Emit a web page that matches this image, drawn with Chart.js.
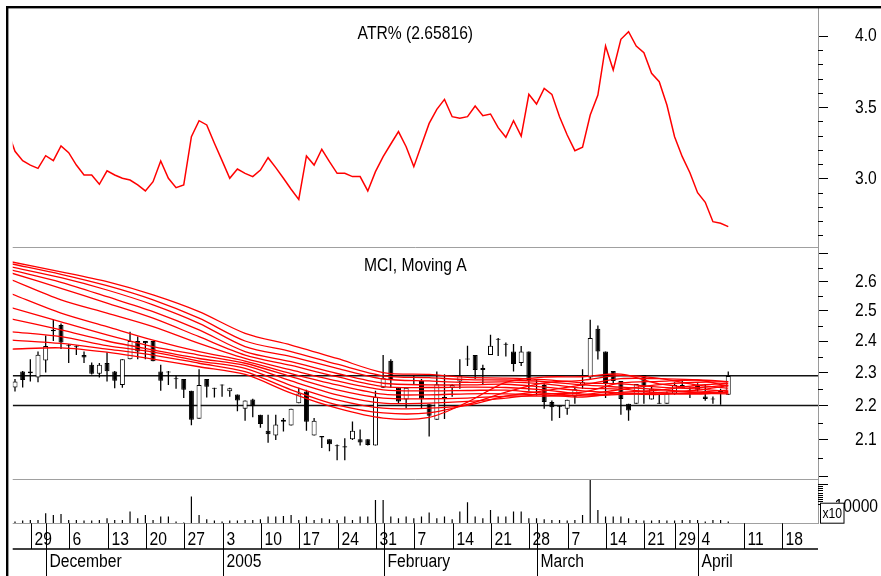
<!DOCTYPE html>
<html>
<head>
<meta charset="utf-8">
<title>MCI with ATR% and moving averages</title>
<script src="https://cdn.jsdelivr.net/npm/chart.js@4.4.1/dist/chart.umd.min.js"></script>
<style>
html,body{margin:0;padding:0;background:#ffffff;overflow:hidden;}
#box{position:relative;width:881px;height:576px;}
canvas{display:block;}
</style>
</head>
<body>
<div id="box"><canvas id="chart" width="881" height="576"></canvas></div>
<script>
const FONT = "'Liberation Sans',Arial,Helvetica,sans-serif";
const SQ = 0.87; // horizontal squeeze to imitate a narrow face

// ---- price bars (index 0 = first trading day shown) ----
const openP = [2.254,2.303,2.303,2.285,2.338,2.437,2.452,2.388,2.383,2.355,
 2.324,2.296,2.330,2.303,2.262,2.342,2.400,2.400,2.400,2.303,
 2.303,2.282,2.280,2.244,2.161,2.280,2.253,2.263,2.243,2.233,
 2.190,2.218,2.173,2.126,2.113,2.158,2.141,2.207,2.242,2.113,
 2.111,2.102,2.085,2.082,2.102,2.102,2.102,2.084,2.253,2.337,
 2.253,2.218,2.277,2.274,2.204,2.158,2.220,2.253,2.272,2.344,
 2.355,2.314,2.355,2.407,2.391,2.366,2.330,2.366,2.279,2.262,
 2.210,2.199,2.190,2.226,2.260,2.285,2.440,2.366,2.305,2.274,
 2.205,2.205,2.292,2.218,2.205,2.205,2.235,2.252,2.243,2.262,
 2.227,2.221,2.240,2.232];
const highP = [2.280,2.305,2.342,2.366,2.418,2.470,2.457,2.390,2.386,2.366,
 2.331,2.330,2.364,2.305,2.342,2.430,2.415,2.400,2.400,2.324,
 2.305,2.290,2.280,2.244,2.310,2.280,2.253,2.263,2.253,2.233,
 2.215,2.220,2.173,2.173,2.173,2.163,2.190,2.253,2.247,2.163,
 2.111,2.102,2.087,2.105,2.153,2.130,2.102,2.244,2.355,2.342,
 2.253,2.253,2.290,2.280,2.204,2.303,2.295,2.264,2.342,2.385,
 2.355,2.324,2.420,2.410,2.395,2.390,2.384,2.366,2.280,2.267,
 2.215,2.199,2.217,2.255,2.310,2.470,2.451,2.366,2.305,2.274,
 2.205,2.265,2.292,2.257,2.235,2.242,2.270,2.278,2.255,2.267,
 2.265,2.227,2.250,2.303];
const lowP = [2.242,2.254,2.272,2.270,2.300,2.400,2.374,2.330,2.355,2.330,
 2.294,2.285,2.272,2.252,2.253,2.342,2.342,2.342,2.335,2.244,
 2.262,2.250,2.222,2.142,2.161,2.224,2.224,2.226,2.226,2.183,
 2.155,2.165,2.135,2.092,2.100,2.124,2.141,2.207,2.126,2.113,
 2.077,2.068,2.043,2.043,2.100,2.084,2.084,2.084,2.253,2.253,
 2.207,2.192,2.262,2.192,2.110,2.158,2.160,2.226,2.250,2.320,
 2.280,2.264,2.355,2.352,2.350,2.303,2.320,2.244,2.230,2.190,
 2.155,2.163,2.173,2.205,2.250,2.280,2.341,2.222,2.265,2.173,
 2.155,2.205,2.205,2.218,2.205,2.205,2.232,2.252,2.222,2.242,
 2.214,2.205,2.202,2.232];
const closeP = [2.272,2.277,2.298,2.356,2.384,2.432,2.395,2.385,2.380,2.347,
 2.296,2.324,2.304,2.275,2.342,2.400,2.366,2.393,2.335,2.275,
 2.300,2.279,2.247,2.158,2.262,2.256,2.250,2.260,2.252,2.215,
 2.215,2.198,2.146,2.116,2.144,2.152,2.190,2.236,2.152,2.155,
 2.107,2.088,2.082,2.079,2.126,2.093,2.086,2.225,2.284,2.277,
 2.212,2.253,2.274,2.220,2.170,2.264,2.225,2.262,2.290,2.341,
 2.308,2.308,2.385,2.404,2.388,2.327,2.366,2.277,2.276,2.210,
 2.195,2.196,2.217,2.249,2.270,2.410,2.366,2.265,2.274,2.219,
 2.185,2.265,2.255,2.250,2.208,2.236,2.262,2.262,2.246,2.247,
 2.219,2.218,2.245,2.289];
const volume = [77000,123000,150000,150000,455000,377000,423000,150000,150000,123000,
 123000,150000,227000,150000,150000,532000,227000,377000,150000,305000,
 305000,77000,32000,1214000,377000,182000,123000,77000,123000,123000,
 150000,150000,182000,305000,305000,332000,377000,150000,305000,150000,
 227000,182000,150000,305000,150000,305000,305000,1059000,1059000,305000,
 227000,305000,227000,305000,486000,227000,305000,182000,532000,955000,
 305000,227000,605000,305000,305000,532000,532000,227000,227000,182000,
 150000,150000,123000,150000,377000,1968000,605000,305000,305000,305000,
 227000,150000,123000,123000,150000,123000,123000,150000,150000,150000,
 77000,150000,150000,77000];

// ---- ATR% (first value belongs to the day before the first bar) ----
const atrStart = -1;
const atrPct = [3.34,3.19,3.124,3.093,3.070,3.159,3.124,3.227,3.180,3.093,3.023,
 3.023,2.958,3.053,3.023,3.000,2.988,2.953,2.911,2.976,3.122,
 3.000,2.934,2.953,3.293,3.405,3.375,3.246,3.124,3.000,3.065,
 3.035,3.012,3.058,3.145,3.075,3.000,2.923,2.852,3.157,3.093,
 3.204,3.117,3.035,3.035,3.012,3.012,2.911,3.047,3.152,3.241,
 3.328,3.222,3.082,3.234,3.386,3.485,3.555,3.433,3.422,3.433,
 3.508,3.440,3.452,3.356,3.288,3.405,3.297,3.590,3.522,3.632,
 3.590,3.433,3.304,3.194,3.218,3.445,3.585,3.930,3.761,3.977,
 4.030,3.930,3.883,3.738,3.679,3.515,3.292,3.152,3.039,2.899,
 2.831,2.695,2.684,2.660];

// ---- moving averages, read at these bar positions ----
const maIndex = [-0.4,6,12,18,24,30,36,42,48,54,59,64,69,74,79,84,89,93];
const maA = [2.670,2.635,2.600,2.554,2.497,2.425,2.387,2.344,2.300,2.294,2.285,2.283,2.278,2.268,2.265,2.255,2.250,2.242];
const maB = [2.663,2.626,2.586,2.537,2.475,2.400,2.366,2.326,2.290,2.284,2.278,2.277,2.272,2.262,2.255,2.248,2.240,2.238];
const maC = [2.652,2.614,2.571,2.520,2.458,2.382,2.350,2.313,2.280,2.274,2.270,2.271,2.265,2.252,2.249,2.238,2.236,2.235];
const maD = [2.641,2.598,2.548,2.497,2.436,2.366,2.334,2.297,2.267,2.262,2.262,2.264,2.255,2.244,2.238,2.235,2.234,2.240];
const maE = [2.630,2.577,2.526,2.475,2.414,2.355,2.322,2.287,2.257,2.254,2.255,2.254,2.247,2.234,2.235,2.233,2.240,2.246];
const maF = [2.606,2.537,2.492,2.447,2.392,2.344,2.308,2.274,2.247,2.244,2.245,2.246,2.237,2.229,2.233,2.239,2.246,2.260];
const maG = [2.557,2.492,2.447,2.403,2.366,2.336,2.297,2.262,2.234,2.232,2.235,2.235,2.232,2.225,2.239,2.246,2.261,2.267];
const maH = [2.510,2.463,2.420,2.382,2.355,2.329,2.287,2.247,2.222,2.220,2.222,2.228,2.228,2.232,2.248,2.263,2.270,2.272];
const maI = [2.472,2.436,2.400,2.371,2.344,2.322,2.274,2.232,2.207,2.207,2.212,2.222,2.234,2.240,2.268,2.273,2.277,2.272];
const maJ = [2.430,2.414,2.385,2.364,2.336,2.313,2.260,2.217,2.192,2.192,2.200,2.228,2.244,2.262,2.281,2.281,2.277,2.258];
const maK = [2.403,2.392,2.374,2.355,2.329,2.303,2.247,2.202,2.178,2.178,2.203,2.240,2.268,2.276,2.291,2.282,2.261,2.252];
const maL = [2.374,2.378,2.364,2.342,2.318,2.294,2.237,2.192,2.163,2.165,2.210,2.270,2.286,2.287,2.295,2.265,2.254,2.262];
const maSeries = [maA,maB,maC,maD,maE,maF,maG,maH,maI,maJ,maK,maL];

// ---- horizontal levels ----
const levelHigh = 2.29;
const levelLow = 2.20;

// ---- date axis ----
const dayTicks  = [2,7,12,17,22,27,32,37,42,47,52,57,62,67,72,77,82,86,89,95,100];
const dayLabels = ['29','6','13','20','27','3','10','17','24','31','7','14','21','28','7','14','21','29','4','11','18'];
const monthTicks  = [4,27,48,68,89];
const monthLabels = ['December','2005','February','March','April'];

// ---- value axes ----
const atrMajor = [3.0,3.5,4.0];
const atrMinor = [2.6,2.7,2.8,2.9,3.1,3.2,3.3,3.4,3.6,3.7,3.8,3.9];
const mciMajor = [2.0,2.1,2.2,2.3,2.4,2.5,2.6,2.7];
const mciLabelled = [2.1,2.2,2.3,2.4,2.5,2.6];
const mciMinor = [2.05,2.15,2.25,2.35,2.45,2.55,2.65];
const volMinor = [900000,1000000,1100000,1200000,1300000,1400000,1500000,1600000,1700000];
const volMajor = [1800000];
const volLabelValue = 750000;
const volLabel = '10000';
const volMultiplier = 'x10';

const xMin = -0.3, xMax = 104.7;
const atrMin = 2.515, atrMax = 4.197;
const mciMin = 1.9914, mciMax = 2.7235;
const volMax = 2000000;

const barIdx = closeP.map((_, i) => i);

Chart.defaults.font.family = FONT;

const fitY = s => { s.width = 63; s.paddingTop = 0; s.paddingBottom = 0; };

const datasets = [];
[levelHigh, levelLow].forEach(v => datasets.push({
  type: 'line', yAxisID: 'yMCI', order: 6,
  data: [{x: xMin, y: v}, {x: xMax, y: v}],
  borderColor: '#111', borderWidth: 1.7, pointRadius: 0
}));
datasets.push({
  type: 'bar', yAxisID: 'yMCI', order: 5, grouped: false,
  data: barIdx.map(i => ({x: i, y: [lowP[i], highP[i]]})),
  backgroundColor: '#000', borderWidth: 0, barThickness: 1.3, maxBarThickness: 1.3, inflateAmount: 0
});
datasets.push({
  type: 'bar', yAxisID: 'yMCI', order: 4, grouped: false,
  data: barIdx.map(i => ({x: i, y: [openP[i], closeP[i]]})),
  backgroundColor: barIdx.map(i => closeP[i] >= openP[i] ? '#ffffff' : '#000000'),
  borderColor: '#000', borderWidth: 1, borderSkipped: false,
  barThickness: 5, maxBarThickness: 5, inflateAmount: 0
});
maSeries.forEach(s => datasets.push({
  type: 'line', yAxisID: 'yMCI', order: 1,
  data: maIndex.map((x, k) => ({x, y: s[k]})),
  borderColor: '#ff0000', borderWidth: 1.3, pointRadius: 0, tension: 0.3
}));
datasets.push({
  type: 'line', yAxisID: 'yATR', order: 1,
  data: atrPct.map((v, k) => ({x: atrStart + k, y: v})),
  borderColor: '#ff0000', borderWidth: 1.5, pointRadius: 0, tension: 0
});
datasets.push({
  type: 'bar', yAxisID: 'yVol', order: 2, grouped: false,
  data: barIdx.map(i => ({x: i, y: volume[i]})),
  backgroundColor: '#000', borderWidth: 0, barThickness: 1.2, maxBarThickness: 1.2, inflateAmount: 0
});

function narrowText(ctx, text, x, y, size, align, baseline) {
  ctx.save();
  ctx.font = size + 'px ' + FONT;
  ctx.textBaseline = baseline || 'alphabetic';
  ctx.textAlign = 'left';
  const w = ctx.measureText(text).width * SQ;
  const x0 = align === 'center' ? x - w / 2 : (align === 'right' ? x - w : x);
  ctx.translate(x0, y);
  ctx.scale(SQ, 1);
  ctx.fillText(text, 0, 0);
  ctx.restore();
}

const decor = {
  id: 'decor',
  afterDraw(chart) {
    const ctx = chart.ctx, ca = chart.chartArea;
    const xs = chart.scales.x, ya = chart.scales.yATR, ym = chart.scales.yMCI, yv = chart.scales.yVol;
    ctx.save();
    // panel separators
    ctx.strokeStyle = '#a0a0a0'; ctx.lineWidth = 1;
    [ya.bottom, ym.bottom, yv.bottom].forEach(y => {
      const yy = Math.round(y) + 0.5;
      ctx.beginPath(); ctx.moveTo(ca.left, yy); ctx.lineTo(ca.right, yy); ctx.stroke();
    });
    // minor ticks
    ctx.strokeStyle = '#000';
    const ticks = (scale, vals, len) => vals.forEach(v => {
      const y = Math.round(scale.getPixelForValue(v)) + 0.5;
      ctx.beginPath(); ctx.moveTo(scale.left, y); ctx.lineTo(scale.left + len, y); ctx.stroke();
    });
    ticks(ya, atrMinor, 5); ticks(ym, mciMinor, 5); ticks(yv, volMinor, 5); ticks(yv, volMajor, 10);
    // axis labels
    ctx.fillStyle = '#000';
    atrMajor.forEach(v => narrowText(ctx, v.toFixed(1), ya.left + 37, ya.getPixelForValue(v) + 0.5, 18, 'left', 'middle'));
    mciLabelled.forEach(v => narrowText(ctx, v.toFixed(1), ym.left + 37, ym.getPixelForValue(v) + 0.5, 18, 'left', 'middle'));
    // frame
    ctx.fillRect(6, 6, chart.width - 6, 2.4);
    ctx.fillRect(6, 6, 2.4, chart.height - 6);
    // titles
    const cx = (ca.left + ca.right) / 2;
    narrowText(ctx, 'ATR% (2.65816)', cx, ya.top + 31.3, 18, 'center');
    narrowText(ctx, 'MCI, Moving A', cx, ym.top + 23.4, 18, 'center');
    // date axis
    const base = yv.bottom;
    ctx.lineWidth = 1;
    dayTicks.forEach((d, k) => {
      const x = Math.floor(xs.getPixelForValue(d)) + 1.5;
      ctx.beginPath(); ctx.moveTo(x, base); ctx.lineTo(x, base + 25.7); ctx.stroke();
      narrowText(ctx, dayLabels[k], x + 3, base + 21.7, 18, 'left');
    });
    ctx.lineWidth = 1.5;
    ctx.beginPath(); ctx.moveTo(ca.left, base + 25.7); ctx.lineTo(ca.right, base + 25.7); ctx.stroke();
    ctx.lineWidth = 1;
    monthTicks.forEach((d, k) => {
      const x = Math.floor(xs.getPixelForValue(d)) + 1.5;
      ctx.beginPath(); ctx.moveTo(x, base); ctx.lineTo(x, chart.height); ctx.stroke();
      narrowText(ctx, monthLabels[k], x + 3, base + 43.4, 18, 'left');
    });
    // volume label with multiplier box over its first digit
    const vy = yv.getPixelForValue(volLabelValue);
    narrowText(ctx, volLabel, ca.right + 16.5, vy, 18, 'left', 'middle');
    ctx.fillStyle = '#fff';
    ctx.fillRect(ca.right + 2, base - 20.6, 24, 20.6);
    ctx.strokeStyle = '#000';
    ctx.strokeRect(ca.right + 2.5, base - 20.1, 23.5, 20);
    ctx.fillStyle = '#000';
    narrowText(ctx, volMultiplier, ca.right + 14.2, base - 9.5, 14, 'center', 'middle');
    ctx.restore();
  }
};

new Chart(document.getElementById('chart'), {
  type: 'bar',
  data: { datasets },
  options: {
    responsive: false, animation: false, events: [],
    layout: { padding: { left: 12.7, top: 8, right: 0, bottom: 0 } },
    plugins: { legend: { display: false }, tooltip: { enabled: false } },
    scales: {
      x: {
        type: 'linear', position: 'bottom', min: xMin, max: xMax, offset: false,
        grid: { display: false }, border: { display: false }, ticks: { display: false },
        afterFit: s => { s.height = 52.7; s.paddingLeft = 0; s.paddingRight = 0; }
      },
      yATR: {
        type: 'linear', position: 'right', stack: 'panels', stackWeight: 239.3,
        min: atrMin, max: atrMax,
        afterBuildTicks: s => { s.ticks = atrMajor.map(v => ({value: v})); },
        ticks: { display: false, autoSkip: false },
        grid: { drawOnChartArea: false, drawTicks: true, tickLength: 10, tickColor: '#000' },
        border: { display: true, color: '#9a9a9a' },
        afterFit: fitY
      },
      yMCI: {
        type: 'logarithmic', position: 'right', stack: 'panels', stackWeight: 232,
        min: mciMin, max: mciMax,
        afterBuildTicks: s => { s.ticks = mciMajor.map(v => ({value: v})); },
        ticks: { display: false, autoSkip: false },
        grid: { drawOnChartArea: false, drawTicks: true, tickLength: 10, tickColor: '#000' },
        border: { display: true, color: '#9a9a9a' },
        afterFit: fitY
      },
      yVol: {
        type: 'linear', position: 'right', stack: 'panels', stackWeight: 44,
        min: 0, max: volMax,
        ticks: { display: false },
        grid: { display: false },
        border: { display: true, color: '#9a9a9a' },
        afterFit: fitY
      }
    }
  },
  plugins: [decor]
});
</script>
</body>
</html>
